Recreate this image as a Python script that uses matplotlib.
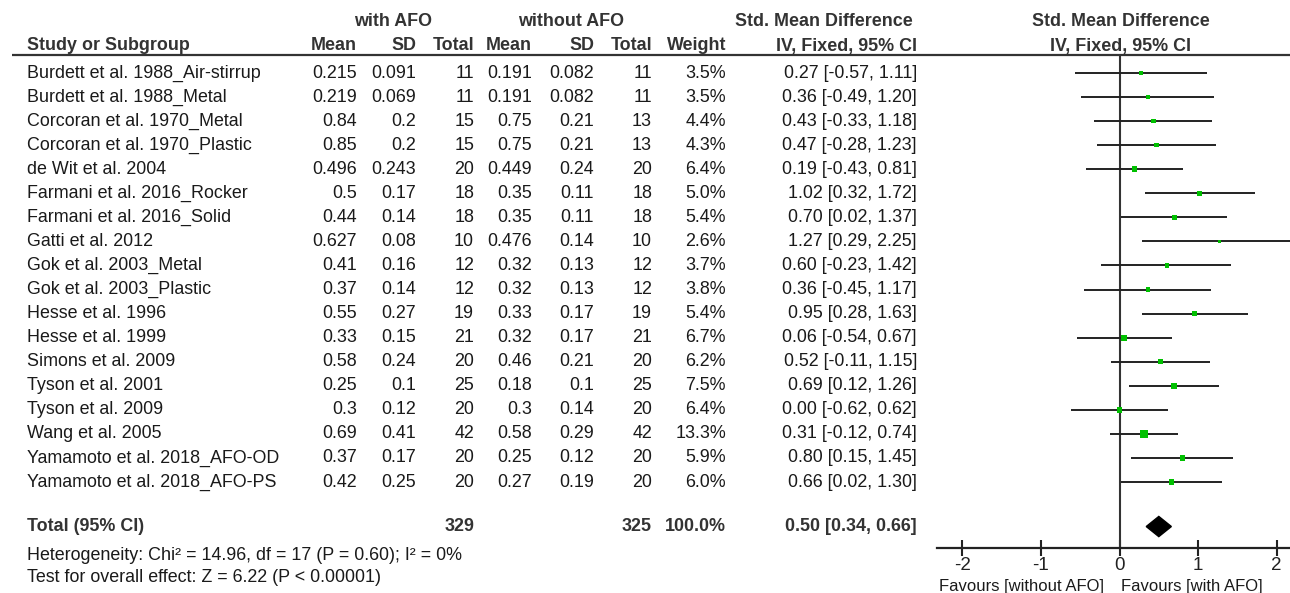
import matplotlib
matplotlib.use("Agg")
import matplotlib.pyplot as plt
from matplotlib.patches import Polygon

plt.rcParams["font.family"] = ["Liberation Sans", "DejaVu Sans"]

# Study data
studies = ["Burdett et al. 1988_Air-stirrup", "Burdett et al. 1988_Metal",
           "Corcoran et al. 1970_Metal", "Corcoran et al. 1970_Plastic",
           "de Wit et al. 2004", "Farmani et al. 2016_Rocker",
           "Farmani et al. 2016_Solid", "Gatti et al. 2012",
           "Gok et al. 2003_Metal", "Gok et al. 2003_Plastic",
           "Hesse et al. 1996", "Hesse et al. 1999", "Simons et al. 2009",
           "Tyson et al. 2001", "Tyson et al. 2009", "Wang et al. 2005",
           "Yamamoto et al. 2018_AFO-OD", "Yamamoto et al. 2018_AFO-PS"]
mean_afo = [0.215, 0.219, 0.84, 0.85, 0.496, 0.5, 0.44, 0.627, 0.41, 0.37,
            0.55, 0.33, 0.58, 0.25, 0.3, 0.69, 0.37, 0.42]
sd_afo = [0.091, 0.069, 0.2, 0.2, 0.243, 0.17, 0.14, 0.08, 0.16, 0.14,
          0.27, 0.15, 0.24, 0.1, 0.12, 0.41, 0.17, 0.25]
n_afo = [11, 11, 15, 15, 20, 18, 18, 10, 12, 12, 19, 21, 20, 25, 20, 42, 20, 20]
mean_no = [0.191, 0.191, 0.75, 0.75, 0.449, 0.35, 0.35, 0.476, 0.32, 0.32,
           0.33, 0.32, 0.46, 0.18, 0.3, 0.58, 0.25, 0.27]
sd_no = [0.082, 0.082, 0.21, 0.21, 0.24, 0.11, 0.11, 0.14, 0.13, 0.13,
         0.17, 0.17, 0.21, 0.1, 0.14, 0.29, 0.12, 0.19]
n_no = [11, 11, 13, 13, 20, 18, 18, 10, 12, 12, 19, 21, 20, 25, 20, 42, 20, 20]
weight = [3.5, 3.5, 4.4, 4.3, 6.4, 5.0, 5.4, 2.6, 3.7, 3.8, 5.4, 6.7, 6.2,
          7.5, 6.4, 13.3, 5.9, 6.0]
smd = [0.27, 0.36, 0.43, 0.47, 0.19, 1.02, 0.70, 1.27, 0.60, 0.36, 0.95,
       0.06, 0.52, 0.69, 0.00, 0.31, 0.80, 0.66]
ci_lo = [-0.57, -0.49, -0.33, -0.28, -0.43, 0.32, 0.02, 0.29, -0.23, -0.45,
         0.28, -0.54, -0.11, 0.12, -0.62, -0.12, 0.15, 0.02]
ci_hi = [1.11, 1.20, 1.18, 1.23, 0.81, 1.72, 1.37, 2.25, 1.42, 1.17, 1.63,
         0.67, 1.15, 1.26, 0.62, 0.74, 1.45, 1.30]

total_afo, total_no = 329, 325
total_smd, total_lo, total_hi = 0.50, 0.34, 0.66
heterogeneity = "Heterogeneity: Chi² = 14.96, df = 17 (P = 0.60); I² = 0%"
overall = "Test for overall effect: Z = 6.22 (P < 0.00001)"

W, H = 1290, 593
ROW0, STEP = 73, 24.06          # pixel y of first study row, row spacing
TOTAL_ROW = 18.85


def row(px):
    return (px - ROW0) / STEP


fig = plt.figure(figsize=(W / 100, H / 100), dpi=100)

# table axes: x in pixels, y in row units
ax = fig.add_axes([0, 0, 1, 1])
ax.set_xlim(0, W)
ax.set_ylim(row(H), row(0))
ax.axis("off")

fs = 12.9
txt = "#1a1a1a"
hdr = "#333333"

# column right edges (pixels)
cols = [357, 416, 474, 532, 594, 652, 726, 917]

ax.text((312 + 475) / 2, row(22), "with AFO", ha="center", va="center",
        fontsize=fs, fontweight="bold", color=hdr)
ax.text((490 + 652) / 2, row(22), "without AFO", ha="center", va="center",
        fontsize=fs, fontweight="bold", color=hdr)
ax.text(913, row(22), "Std. Mean Difference", ha="right", va="center",
        fontsize=fs, fontweight="bold", color=hdr)
ax.text(1121, row(22), "Std. Mean Difference", ha="center", va="center",
        fontsize=fs, fontweight="bold", color=hdr)

ax.text(27, row(46), "Study or Subgroup", ha="left", va="center",
        fontsize=fs, fontweight="bold", color=hdr)
for x, lab in zip(cols, ["Mean", "SD", "Total", "Mean", "SD", "Total",
                         "Weight", "IV, Fixed, 95% CI"]):
    ax.text(x, row(46), lab, ha="right", va="center", fontsize=fs,
            fontweight="bold", color=hdr)
ax.text(1120, row(46), "IV, Fixed, 95% CI", ha="center", va="center",
        fontsize=fs, fontweight="bold", color=hdr)
ax.plot([12, W], [row(55), row(55)], color="#333333", lw=1.6,
        solid_capstyle="butt")

for i, name in enumerate(studies):
    vals = [str(mean_afo[i]), str(sd_afo[i]), str(n_afo[i]),
            str(mean_no[i]), str(sd_no[i]), str(n_no[i]),
            f"{weight[i]:.1f}%",
            f"{smd[i]:.2f} [{ci_lo[i]:.2f}, {ci_hi[i]:.2f}]"]
    ax.text(27, i, name, ha="left", va="center", fontsize=fs, color=txt)
    for x, v in zip(cols, vals):
        ax.text(x, i, v, ha="right", va="center", fontsize=fs, color=txt)

ax.text(27, TOTAL_ROW, "Total (95% CI)", ha="left", va="center",
        fontsize=fs, fontweight="bold", color=hdr)
for x, v in zip([cols[2], cols[5], cols[6], cols[7]],
                [str(total_afo), str(total_no), "100.0%",
                 f"{total_smd:.2f} [{total_lo:.2f}, {total_hi:.2f}]"]):
    ax.text(x, TOTAL_ROW, v, ha="right", va="center", fontsize=fs,
            fontweight="bold", color=hdr)
ax.text(27, row(555), heterogeneity, ha="left", va="center", fontsize=fs,
        color=txt)
ax.text(27, row(578), overall, ha="left", va="center", fontsize=fs,
        color=txt)

ax.text(1104, row(593.5), "Favours [without AFO]", ha="right", va="bottom",
        fontsize=12, color=txt)
ax.text(1121, row(593.5), "Favours [with AFO]", ha="left", va="bottom",
        fontsize=12, color=txt)

# forest axes
zero_px, unit_px = 1119.5, 78.6
left_px, top_px, bot_px = 937, 55, 548
fx = fig.add_axes([left_px / W, 1 - bot_px / H, (W - left_px) / W,
                   (bot_px - top_px) / H])
fx.set_xlim((left_px - zero_px) / unit_px, (W - zero_px) / unit_px)
fx.set_ylim(row(bot_px), row(top_px))
fx.patch.set_alpha(0)
for s in ["top", "right", "left"]:
    fx.spines[s].set_visible(False)
fx.spines["bottom"].set_linewidth(1.6)
fx.spines["bottom"].set_color("#222222")
fx.set_yticks([])
fx.set_xticks([-2, -1, 0, 1, 2])
fx.set_xticklabels(["-2", "-1", "0", "1", "2"])
fx.tick_params(axis="x", direction="inout", length=11, width=1.5,
               labelsize=13.5, pad=1, colors="#222222")
fx.axvline(0, color="#333333", lw=1.5)

ys = list(range(len(studies)))
fx.hlines(ys, ci_lo, ci_hi, color="#222222", lw=1.4, clip_on=False)
fx.scatter(smd, ys, s=[2.5 * w for w in weight], marker="s",
           color="#00c000", zorder=3, linewidths=0)

h = 0.42
fx.add_patch(Polygon([(total_lo, TOTAL_ROW), (total_smd, TOTAL_ROW - h),
                      (total_hi, TOTAL_ROW), (total_smd, TOTAL_ROW + h)],
                     closed=True, color="black", zorder=3))

fig.savefig("out.png", dpi=100)
